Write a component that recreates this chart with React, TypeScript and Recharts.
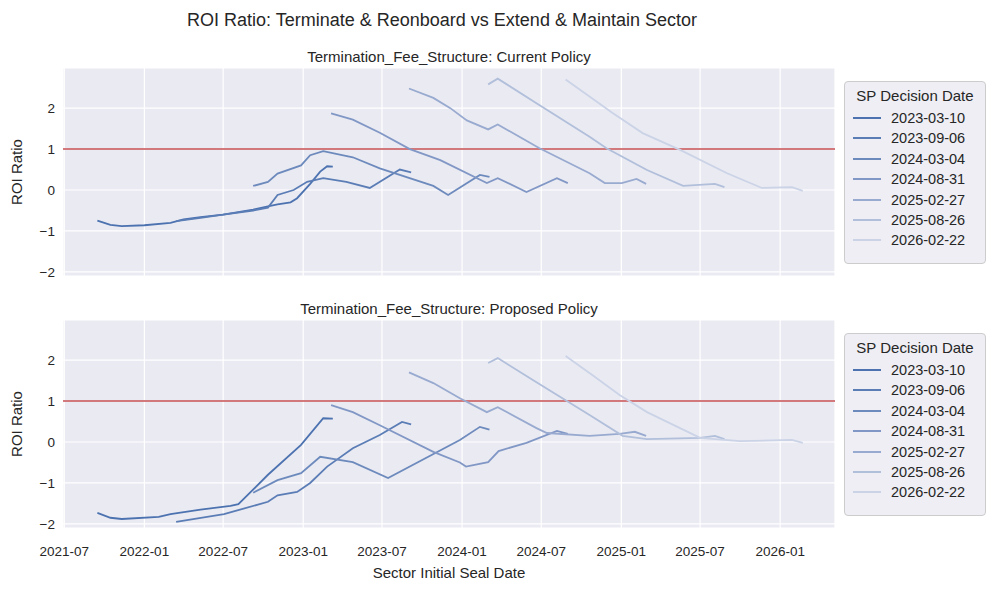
import { CartesianGrid, Line, LineChart, ReferenceLine, XAxis, YAxis } from "recharts";

type Pt = [string, number];

const decisionDates = ["2023-03-10", "2023-09-06", "2024-03-04", "2024-08-31", "2025-02-27", "2025-08-26", "2026-02-22"];
const colors = ["#4c72b0", "#5b7db6", "#6d8abd", "#8197c5", "#98aacf", "#b1bfdb", "#cbd3e7"];
const xTicks = ["2021-07-01", "2022-01-01", "2022-07-01", "2023-01-01", "2023-07-01", "2024-01-01", "2024-07-01", "2025-01-01", "2025-07-01", "2026-01-01"];
const yTicks = [-2, -1, 0, 1, 2];

// Current policy
const cur1: Pt[] = [["2021-09-15", -0.75], ["2021-10-15", -0.85], ["2021-11-10", -0.88], ["2022-01-01", -0.86], ["2022-03-02", -0.8], ["2022-04-01", -0.72], ["2022-05-10", -0.66], ["2022-07-01", -0.6], ["2022-09-08", -0.48], ["2022-10-12", -0.4], ["2022-11-03", -0.35], ["2022-12-03", -0.3], ["2022-12-18", -0.2], ["2023-01-17", 0.15], ["2023-02-09", 0.45], ["2023-02-25", 0.58], ["2023-03-10", 0.57]];
const cur2: Pt[] = [["2022-03-15", -0.76], ["2022-05-10", -0.68], ["2022-07-01", -0.6], ["2022-09-08", -0.5], ["2022-10-12", -0.43], ["2022-11-03", -0.12], ["2022-12-10", 0.0], ["2023-01-10", 0.2], ["2023-02-16", 0.29], ["2023-04-10", 0.2], ["2023-06-03", 0.05], ["2023-08-11", 0.5], ["2023-09-06", 0.43]];
const cur3: Pt[] = [["2022-09-08", 0.1], ["2022-10-12", 0.2], ["2022-11-03", 0.4], ["2022-12-27", 0.6], ["2023-01-17", 0.85], ["2023-02-16", 0.95], ["2023-04-25", 0.8], ["2023-06-26", 0.53], ["2023-10-27", 0.1], ["2023-11-30", -0.12], ["2024-02-11", 0.37], ["2024-03-04", 0.32]];
const cur4: Pt[] = [["2023-03-06", 1.87], ["2023-04-25", 1.72], ["2023-06-26", 1.4], ["2023-09-03", 1.0], ["2023-11-12", 0.73], ["2024-02-27", 0.17], ["2024-03-23", 0.29], ["2024-05-28", -0.05], ["2024-08-06", 0.29], ["2024-08-31", 0.17]];
const cur5: Pt[] = [["2023-09-01", 2.48], ["2023-10-27", 2.25], ["2023-12-05", 2.0], ["2024-01-12", 1.7], ["2024-03-01", 1.48], ["2024-03-23", 1.6], ["2024-06-27", 1.02], ["2024-10-20", 0.41], ["2024-11-24", 0.17], ["2025-01-02", 0.17], ["2025-02-05", 0.27], ["2025-02-27", 0.15]];
const cur6: Pt[] = [["2024-03-01", 2.58], ["2024-03-23", 2.72], ["2024-06-20", 2.12], ["2024-10-20", 1.3], ["2024-11-28", 1.02], ["2025-03-01", 0.49], ["2025-05-23", 0.1], ["2025-08-04", 0.15], ["2025-08-26", 0.07]];
const cur7: Pt[] = [["2024-08-26", 2.7], ["2024-12-12", 1.88], ["2025-02-19", 1.39], ["2025-05-16", 0.98], ["2025-09-01", 0.41], ["2025-11-20", 0.05], ["2026-01-28", 0.07], ["2026-02-22", -0.02]];

// Proposed policy
const pro1: Pt[] = [["2021-09-15", -1.73], ["2021-10-15", -1.85], ["2021-11-10", -1.88], ["2022-02-03", -1.83], ["2022-03-02", -1.76], ["2022-05-10", -1.65], ["2022-07-18", -1.56], ["2022-08-05", -1.52], ["2022-10-12", -0.8], ["2022-12-27", -0.07], ["2023-02-16", 0.58], ["2023-03-10", 0.57]];
const pro2: Pt[] = [["2022-03-15", -1.95], ["2022-07-03", -1.76], ["2022-10-12", -1.46], ["2022-11-03", -1.3], ["2022-12-18", -1.22], ["2023-01-17", -1.0], ["2023-02-25", -0.6], ["2023-04-25", -0.15], ["2023-06-26", 0.17], ["2023-08-16", 0.49], ["2023-09-06", 0.43]];
const pro3: Pt[] = [["2022-09-08", -1.24], ["2022-11-03", -0.93], ["2022-12-27", -0.76], ["2023-02-09", -0.36], ["2023-04-25", -0.49], ["2023-07-15", -0.88], ["2023-12-27", 0.05], ["2024-02-11", 0.37], ["2024-03-04", 0.3]];
const pro4: Pt[] = [["2023-03-06", 0.9], ["2023-04-25", 0.73], ["2023-06-26", 0.41], ["2023-10-27", -0.24], ["2023-12-27", -0.5], ["2024-01-10", -0.6], ["2024-03-01", -0.49], ["2024-03-25", -0.22], ["2024-05-28", -0.02], ["2024-08-06", 0.27], ["2024-08-31", 0.2]];
const pro5: Pt[] = [["2023-09-01", 1.7], ["2023-10-27", 1.44], ["2023-12-27", 1.07], ["2024-02-27", 0.73], ["2024-03-23", 0.85], ["2024-06-20", 0.34], ["2024-07-14", 0.22], ["2024-10-20", 0.15], ["2024-12-28", 0.2], ["2025-02-01", 0.25], ["2025-02-27", 0.15]];
const pro6: Pt[] = [["2024-03-01", 1.93], ["2024-03-23", 2.05], ["2024-06-20", 1.46], ["2024-10-20", 0.66], ["2025-01-04", 0.15], ["2025-03-01", 0.07], ["2025-07-01", 0.1], ["2025-08-04", 0.15], ["2025-08-26", 0.07]];
const pro7: Pt[] = [["2024-08-26", 2.1], ["2024-10-27", 1.63], ["2024-12-28", 1.15], ["2025-03-01", 0.73], ["2025-07-01", 0.1], ["2025-10-01", 0.02], ["2026-01-28", 0.05], ["2026-02-22", -0.02]];

const current = [cur1, cur2, cur3, cur4, cur5, cur6, cur7];
const proposed = [pro1, pro2, pro3, pro4, pro5, pro6, pro7];

const ts = (d: string) => Date.parse(d + "T00:00:00Z");
const toRows = (pts: Pt[]) => pts.map(([d, v]) => ({ t: ts(d), v }));
const fmt = (t: number) => new Date(t).toISOString().slice(0, 7);

const FONT = "'Liberation Sans', Arial, sans-serif";
const tickStyle = { fill: "#262626", fontSize: 13.5, fontFamily: FONT };

function Panel({ series, top, height, showX }: { series: Pt[][]; top: number; height: number; showX: boolean }) {
  return (
    <div style={{ position: "absolute", left: 0, top }}>
      <LineChart width={996} height={height} margin={{ top: 0, right: 161, left: 0, bottom: showX ? 31 : 14 }}>
        <CartesianGrid stroke="#ffffff" strokeWidth={1.2} fill="#eaeaf2" />
        <XAxis
          type="number"
          dataKey="t"
          domain={[ts("2021-06-28"), ts("2026-05-07")]}
          ticks={xTicks.map(ts)}
          tickFormatter={fmt}
          hide={!showX}
          height={30}
          tickMargin={12}
          axisLine={false}
          tickLine={false}
          tick={tickStyle}
          allowDataOverflow
        />
        <YAxis
          type="number"
          domain={[-2.1, 2.98]}
          ticks={yTicks}
          width={63}
          axisLine={false}
          tickLine={false}
          tick={tickStyle}
          tickFormatter={(v) => (v < 0 ? `\u2212${-v}` : `${v}`)}
          allowDataOverflow
        />
        <ReferenceLine y={1} stroke="#c44e52" strokeWidth={1.5} />
        {series.map((s, i) => (
          <Line
            key={i}
            data={toRows(s)}
            dataKey="v"
            stroke={colors[i]}
            strokeWidth={1.8}
            dot={false}
            isAnimationActive={false}
          />
        ))}
      </LineChart>
    </div>
  );
}

function Legend({ top }: { top: number }) {
  return (
    <div
      style={{
        position: "absolute",
        left: 844,
        top,
        width: 142,
        height: 183,
        boxSizing: "border-box",
        background: "#eeeef4",
        border: "1px solid #cccccc",
        borderRadius: 4,
        fontFamily: FONT,
        color: "#262626",
      }}
    >
      <div style={{ textAlign: "center", fontSize: 15, marginTop: 5 }}>SP Decision Date</div>
      {decisionDates.map((d, i) => (
        <div key={d} style={{ position: "absolute", left: 0, top: 28 + i * 20.4, display: "flex", alignItems: "center", fontSize: 14.5 }}>
          <div style={{ width: 28, height: 2, background: colors[i], marginLeft: 8, marginRight: 10 }} />
          {d}
        </div>
      ))}
    </div>
  );
}

const label = (text: string, x: number, y: number, size: number, extra: object = {}) => (
  <div style={{ position: "absolute", left: x, top: y, transform: "translate(-50%, -50%)", whiteSpace: "nowrap", fontSize: size, fontFamily: FONT, color: "#262626", ...extra }}>
    {text}
  </div>
);

export default function App() {
  return (
    <div style={{ position: "fixed", left: 0, top: 0, width: 996, height: 589, background: "#ffffff" }}>
      {label("ROI Ratio: Terminate & Reonboard vs Extend & Maintain Sector", 442, 20, 18)}
      {label("Termination_Fee_Structure: Current Policy", 449, 56, 15)}
      {label("Termination_Fee_Structure: Proposed Policy", 449, 308, 15)}
      <Panel series={current} top={68} height={222} showX={false} />
      <Panel series={proposed} top={320} height={269} showX />
      {label("ROI Ratio", 16, 172, 15, { transform: "translate(-50%, -50%) rotate(-90deg)" })}
      {label("ROI Ratio", 16, 424, 15, { transform: "translate(-50%, -50%) rotate(-90deg)" })}
      {label("Sector Initial Seal Date", 449, 572, 15)}
      <Legend top={81} />
      <Legend top={333} />
    </div>
  );
}
